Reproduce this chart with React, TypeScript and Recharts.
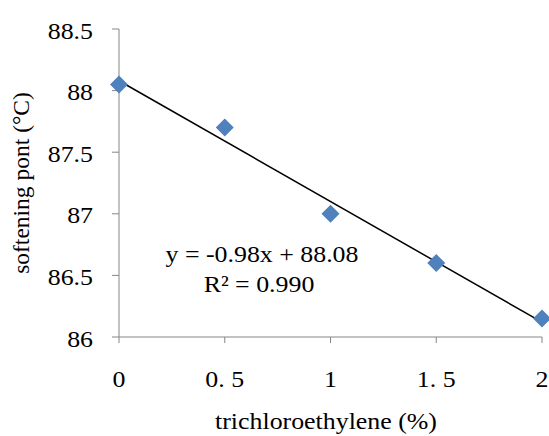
import React from 'react';
import {
  ComposedChart,
  Scatter,
  Line,
  XAxis,
  YAxis,
  Label,
  Customized,
} from 'recharts';

// measured values
const content = [0, 0.5, 1, 1.5, 2];
const softening = [88.05, 87.7, 87.0, 86.6, 86.15];

// linear trendline y = -0.98x + 88.08, drawn between its ends
const trendX = [0, 2];
const trendY = [88.08, 86.12];

const xTicks = [0, 0.5, 1, 1.5, 2];
const yTicks = [86, 86.5, 87, 87.5, 88, 88.5];
const equationText = 'y = -0.98x + 88.08';
const r2Text = 'R² = 0.990';

const points = content.map((x, i) => ({ x, y: softening[i] }));
const trend = trendX.map((x, i) => ({ x, trend: trendY[i] }));

const axisColor = '#868686';
const markerColor = '#4F81BD';
const font = 'Liberation Serif, serif';
const fontSize = 22.5;
const stretch = 1.15; // reference text is a bit wider than Times

const Diamond = (props: any) => {
  const { cx, cy } = props;
  const r = 9;
  return (
    <path
      d={`M${cx},${cy - r} L${cx + r},${cy} L${cx},${cy + r} L${cx - r},${cy} Z`}
      fill={markerColor}
    />
  );
};

const WideText = ({ x, y, anchor, children }: any) => (
  <text
    transform={`translate(${x} ${y}) scale(${stretch} 1)`}
    textAnchor={anchor}
    style={{ fontFamily: font, fontSize }}
    fill="#000"
  >
    {children}
  </text>
);

const YTick = (props: any) => (
  <WideText x={props.x} y={props.y + 9.5} anchor="end">
    {props.payload.value}
  </WideText>
);

const XTick = (props: any) => (
  <WideText x={props.x} y={props.y + 44} anchor="middle">
    {String(props.payload.value).replace('.', '. ')}
  </WideText>
);

const Equation = () => (
  <g>
    <WideText x={262} y={262} anchor="middle">{equationText}</WideText>
    <WideText x={259} y={292} anchor="middle">{r2Text}</WideText>
    <WideText x={326} y={429} anchor="middle">trichloroethylene (%)</WideText>
  </g>
);

export default function App() {
  return (
    <div style={{ position: 'absolute', left: 0, top: 0, width: 549, height: 436, background: '#fff' }}>
      <ComposedChart width={549} height={436} margin={{ top: 29, right: 7, bottom: 0, left: 0 }}>
        <XAxis
          type="number"
          dataKey="x"
          domain={[0, 2]}
          ticks={xTicks}
          stroke={axisColor}
          tickSize={6}
          tickMargin={0}
          height={99}
          tick={<XTick />}
        />
        <YAxis
          type="number"
          domain={[86, 88.5]}
          ticks={yTicks}
          stroke={axisColor}
          tickSize={7}
          tickMargin={19}
          width={119}
          tick={<YTick />}
        >
          <Label
            value="softening pont (°C)"
            angle={-90}
            position="insideLeft"
            offset={21}
            style={{ fill: '#000', fontSize: 23.5, fontFamily: font, textAnchor: 'middle' }}
          />
        </YAxis>
        <Line
          data={trend}
          dataKey="trend"
          stroke="#000"
          strokeWidth={1.5}
          dot={false}
          activeDot={false}
          isAnimationActive={false}
        />
        <Scatter data={points} dataKey="y" shape={<Diamond />} isAnimationActive={false} />
        <Customized component={Equation} />
      </ComposedChart>
    </div>
  );
}
